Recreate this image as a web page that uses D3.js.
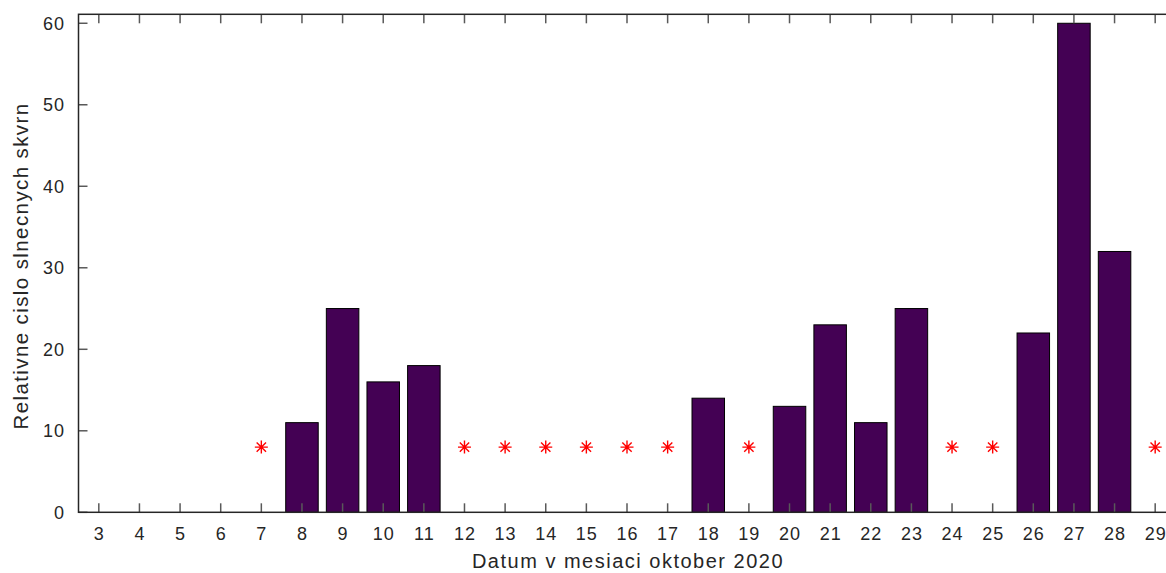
<!DOCTYPE html>
<html>
<head>
<meta charset="utf-8">
<script src="https://cdn.jsdelivr.net/npm/d3@7"></script>
<style>
 body { margin: 0; background: #fff; }
 svg { display: block; }
 text { font-family: "Liberation Sans", Arial, Helvetica, sans-serif; fill: #262626; }
</style>
</head>
<body>
<svg id="chart" width="1166" height="573"></svg>
<script>
"use strict";

// days with an observation and their relative sunspot number
var barDays   = [8, 9, 10, 11, 18, 20, 21, 22, 23, 26, 27, 28];
var barValues = [11, 25, 16, 18, 14, 13, 23, 11, 25, 22, 60, 32];

// days without observation (marked with a red star)
var missDays  = [7, 12, 13, 14, 15, 16, 17, 19, 24, 25, 29];
var missValue = 8;

var xTicks = d3.range(3, 30);
var yTicks = [0, 10, 20, 30, 40, 50, 60];

var xLabel = "Datum v mesiaci oktober 2020";
var yLabel = "Relativne cislo slnecnych skvrn";

var svg = d3.select("#chart");

var plotLeft = 78.5, plotTop = 14.3, plotRight = 1175.5, plotBottom = 512.3;

var x = d3.scaleLinear().domain([2.5, 29.5]).range([plotLeft, plotRight]);
var y = d3.scaleLinear().domain([0, 61.1]).range([plotBottom, plotTop]);

var unit = x(1) - x(0);
var barW = unit * 0.8;

var bars = barDays.map(function(d, i){ return {day: d, value: barValues[i]}; });

// bars
svg.append("g")
  .selectAll("rect")
  .data(bars)
  .enter()
  .append("rect")
  .attr("x", function(d){ return x(d.day) - barW / 2; })
  .attr("y", function(d){ return y(d.value); })
  .attr("width", barW)
  .attr("height", function(d){ return y(0) - y(d.value); })
  .attr("fill", "#440154")
  .attr("stroke", "#000")
  .attr("stroke-width", 1);

// star markers
var s = 6.5;
var star = svg.append("g")
  .selectAll("g")
  .data(missDays)
  .enter()
  .append("g")
  .attr("transform", function(d){ return "translate(" + x(d) + "," + y(missValue) + ")"; });

star.append("path")
  .attr("d", "M0," + (-s) + "V" + s + "M" + (-s) + ",0H" + s +
             "M" + (-s * 0.72) + "," + (-s * 0.72) + "L" + (s * 0.72) + "," + (s * 0.72) +
             "M" + (-s * 0.72) + "," + (s * 0.72) + "L" + (s * 0.72) + "," + (-s * 0.72))
  .attr("stroke", "#ff0000")
  .attr("stroke-width", 1.4)
  .attr("fill", "none");

// ticks (inward, on all four sides)
var tickLen = 9;
var tk = svg.append("g").attr("stroke", "#595959").attr("stroke-width", 1.5);

xTicks.forEach(function(t){
  tk.append("line").attr("x1", x(t)).attr("x2", x(t)).attr("y1", plotBottom).attr("y2", plotBottom - tickLen);
  tk.append("line").attr("x1", x(t)).attr("x2", x(t)).attr("y1", plotTop).attr("y2", plotTop + tickLen);
});
yTicks.forEach(function(t){
  tk.append("line").attr("x1", plotLeft).attr("x2", plotLeft + tickLen).attr("y1", y(t)).attr("y2", y(t));
  tk.append("line").attr("x1", plotRight).attr("x2", plotRight - tickLen).attr("y1", y(t)).attr("y2", y(t));
});

// frame
svg.append("rect")
  .attr("x", plotLeft).attr("y", plotTop)
  .attr("width", plotRight - plotLeft).attr("height", plotBottom - plotTop)
  .attr("fill", "none")
  .attr("stroke", "#262626")
  .attr("stroke-width", 1.5);

// tick labels
svg.append("g")
  .selectAll("text")
  .data(xTicks)
  .enter()
  .append("text")
  .attr("x", function(d){ return x(d) + 0.5; })
  .attr("y", 539.5)
  .attr("text-anchor", "middle")
  .style("font-size", "18px")
  .style("letter-spacing", "1px")
  .text(function(d){ return d; });

svg.append("g")
  .selectAll("text")
  .data(yTicks)
  .enter()
  .append("text")
  .attr("x", 65)
  .attr("y", function(d){ return y(d) + 6.7; })
  .attr("text-anchor", "end")
  .style("font-size", "18px")
  .style("letter-spacing", "1px")
  .text(function(d){ return d; });

// axis labels
svg.append("text")
  .attr("x", 628)
  .attr("y", 568)
  .attr("text-anchor", "middle")
  .style("font-size", "20px")
  .style("letter-spacing", "1.5px")
  .text(xLabel);

svg.append("text")
  .attr("transform", "translate(28,266) rotate(-90)")
  .attr("text-anchor", "middle")
  .style("font-size", "20.5px")
  .style("letter-spacing", "1.4px")
  .text(yLabel);
</script>
</body>
</html>
